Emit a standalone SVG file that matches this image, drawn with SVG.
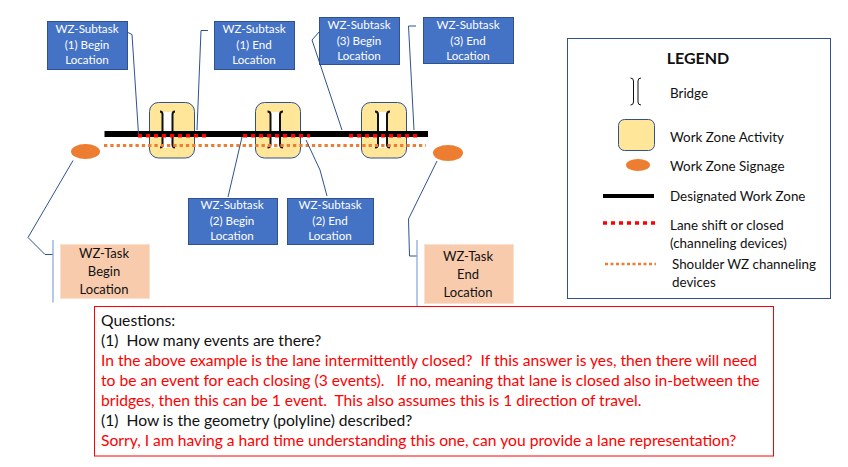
<svg xmlns="http://www.w3.org/2000/svg" width="848" height="467" viewBox="0 0 848 467">
<style>
text{font-family:Lato,"Liberation Sans",sans-serif;text-anchor:middle;white-space:pre}
.st{fill:#fff;font-size:11.6px}
.task{fill:#111;font-size:13px}
.lg{fill:#111;font-size:13.4px;text-anchor:start}
.q{font-size:15.65px;text-anchor:start;fill:#111}
.r{fill:#f00}
.box{fill:#4472c4;stroke:#2f528f;stroke-width:1}
.tb{fill:#f8cbad;stroke:#fbe0cd;stroke-width:1}
.wz{fill:#ffe699;stroke:#2f528f;stroke-width:1}
.sign{fill:#ed7d31}
.lead{fill:none;stroke:#2f528f;stroke-width:1}
.br{fill:none;stroke:#111;stroke-width:2}
</style>
<rect width="848" height="467" fill="#fff"/>
<g id="wz1"><rect class="wz" x="149.500" y="102.500" width="45" height="55.500" rx="9"/></g>
<g id="wz2"><rect class="wz" x="255.500" y="102.500" width="45" height="55.500" rx="9"/></g>
<g id="wz3"><rect class="wz" x="361.500" y="102.500" width="45" height="55.500" rx="9"/></g>
<g id="bridge1"><rect x="162" y="112" width="11" height="36" fill="#fff"/><path class="br" d="M160 111.500q2.500 0 2.500 3v30q0 3-2.500 3M175 111.500q-2.500 0-2.500 3v30q0 3 2.500 3"/></g>
<g id="bridge2"><rect x="270" y="112" width="10" height="36" fill="#fff"/><path class="br" d="M267.500 111.500q3 0 3 3v30q0 3-3 3M283 111.500q-3 0-3 3v30q0 3 3 3"/></g>
<g id="bridge3"><rect x="378" y="112" width="9" height="36" fill="#fff"/><path class="br" d="M375 111.500q3 0 3 3v30q0 3-3 3M390 111.500q-3 0-3 3v30q0 3 3 3"/></g>
<g id="connectors">
<path d="M104.500 134H428" stroke="#000" stroke-width="6" fill="none"/>
<path d="M138 135.700H206M243 135.700H310M349 135.700H417" stroke="#f00" stroke-width="3.500" stroke-dasharray="4 4" fill="none"/>
<path d="M104 145.500H426" stroke="#ed7d31" stroke-width="3" stroke-dasharray="3.300 3" fill="none"/>
<path class="lead" d="M126 31.500L132 34.500L138.500 134"/>
<path class="lead" d="M208 30.500H201L197 130"/>
<path class="lead" d="M319 32L312 40L342 130"/>
<path class="lead" d="M416 26H408.500L414 130"/>
<path class="lead" d="M242 137L228 197"/>
<path class="lead" d="M306 140L320 170L327 196"/>
<path class="lead" d="M73 160.500L28 237.500L45 254.500H53"/>
<path class="lead" d="M437 161L408.500 219L409.500 256H417"/>
<path d="M53 240V302.500M417 240V308" stroke="#8faadc" stroke-width="1.300" fill="none"/>
</g>
<g id="sign1"><ellipse class="sign" cx="85.500" cy="151.500" rx="14.500" ry="7.500"/></g>
<g id="sign2"><ellipse class="sign" cx="448" cy="153" rx="15" ry="8"/></g>
<g id="st1b"><rect class="box" x="47.500" y="21.500" width="80" height="48"/><text class="st" x="87" y="33">WZ-Subtask</text><text class="st" x="87" y="49">(1) Begin</text><text class="st" x="87" y="64">Location</text></g>
<g id="st1e"><rect class="box" x="214.500" y="21.500" width="80" height="48"/><text class="st" x="254" y="33">WZ-Subtask</text><text class="st" x="254" y="49">(1) End</text><text class="st" x="254" y="64">Location</text></g>
<g id="st3b"><rect class="box" x="319.500" y="17.500" width="80" height="47"/><text class="st" x="359" y="29">WZ-Subtask</text><text class="st" x="359" y="45">(3) Begin</text><text class="st" x="359" y="60">Location</text></g>
<g id="st3e"><rect class="box" x="423.500" y="17.500" width="90" height="46"/><text class="st" x="468" y="29">WZ-Subtask</text><text class="st" x="468" y="45">(3) End</text><text class="st" x="468" y="60">Location</text></g>
<g id="st2b"><rect class="box" x="188.500" y="198.500" width="89" height="46"/><text class="st" x="232" y="209">WZ-Subtask</text><text class="st" x="232" y="225">(2) Begin</text><text class="st" x="232" y="240">Location</text></g>
<g id="st2e"><rect class="box" x="287.500" y="198.500" width="86" height="46"/><text class="st" x="330" y="209">WZ-Subtask</text><text class="st" x="330" y="225">(2) End</text><text class="st" x="330" y="240">Location</text></g>
<g id="tb"><rect class="tb" x="60.500" y="244.500" width="89" height="54"/><text class="task" x="104" y="258">WZ-Task</text><text class="task" x="104" y="276">Begin</text><text class="task" x="104" y="294">Location</text></g>
<g id="te"><rect class="tb" x="424.500" y="244.500" width="89" height="59"/><text class="task" x="468" y="261">WZ-Task</text><text class="task" x="468" y="279">End</text><text class="task" x="468" y="297">Location</text></g>
<g id="legend">
<rect x="567.500" y="38.500" width="263" height="260" fill="#fff" stroke="#2f528f"/>
<text x="698" y="64" font-size="16" font-weight="700" fill="#111">LEGEND</text>
<path class="br" d="M630.500 78q3 0 3 3v21q0 3-3 3M641 78q-3 0-3 3v21q0 3 3 3" style="stroke-width:1"/>
<text class="lg" x="670" y="98">Bridge</text>
<rect class="wz" x="618.500" y="119.500" width="36" height="31" rx="6"/>
<text class="lg" x="670" y="142">Work Zone Activity</text>
<ellipse class="sign" cx="638" cy="165" rx="12" ry="6"/>
<text class="lg" x="670" y="171">Work Zone Signage</text>
<path d="M603 196H654" stroke="#000" stroke-width="4" fill="none"/>
<text class="lg" x="670" y="201">Designated Work Zone</text>
<path d="M603 223H655" stroke="#f00" stroke-width="3.500" stroke-dasharray="4 4" fill="none"/>
<text class="lg" x="670" y="230">Lane shift or closed</text>
<text class="lg" x="670" y="248">(channeling devices)</text>
<path d="M605 264H656" stroke="#ed7d31" stroke-width="2.500" stroke-dasharray="3 2.500" fill="none"/>
<text class="lg" x="672" y="269">Shoulder WZ channeling</text>
<text class="lg" x="672" y="287">devices</text>
</g>
<g id="questions">
<rect x="94.500" y="306.500" width="679" height="149.500" fill="#fff" stroke="#f00"/>
<text class="q" x="101" y="326">Questions:</text>
<text class="q" x="101" y="346">(1)  How many events are there?</text>
<text class="q r" x="101" y="366">In the above example is the lane intermittently closed?  If this answer is yes, then there will need</text>
<text class="q r" x="101" y="386">to be an event for each closing (3 events).   If no, meaning that lane is closed also in-between the</text>
<text class="q r" x="101" y="406">bridges, then this can be 1 event.  This also assumes this is 1 direction of travel.</text>
<text class="q" x="101" y="426">(1)  How is the geometry (polyline) described?</text>
<text class="q r" x="101" y="446">Sorry, I am having a hard time understanding this one, can you provide a lane representation?</text>
</g>
</svg>
